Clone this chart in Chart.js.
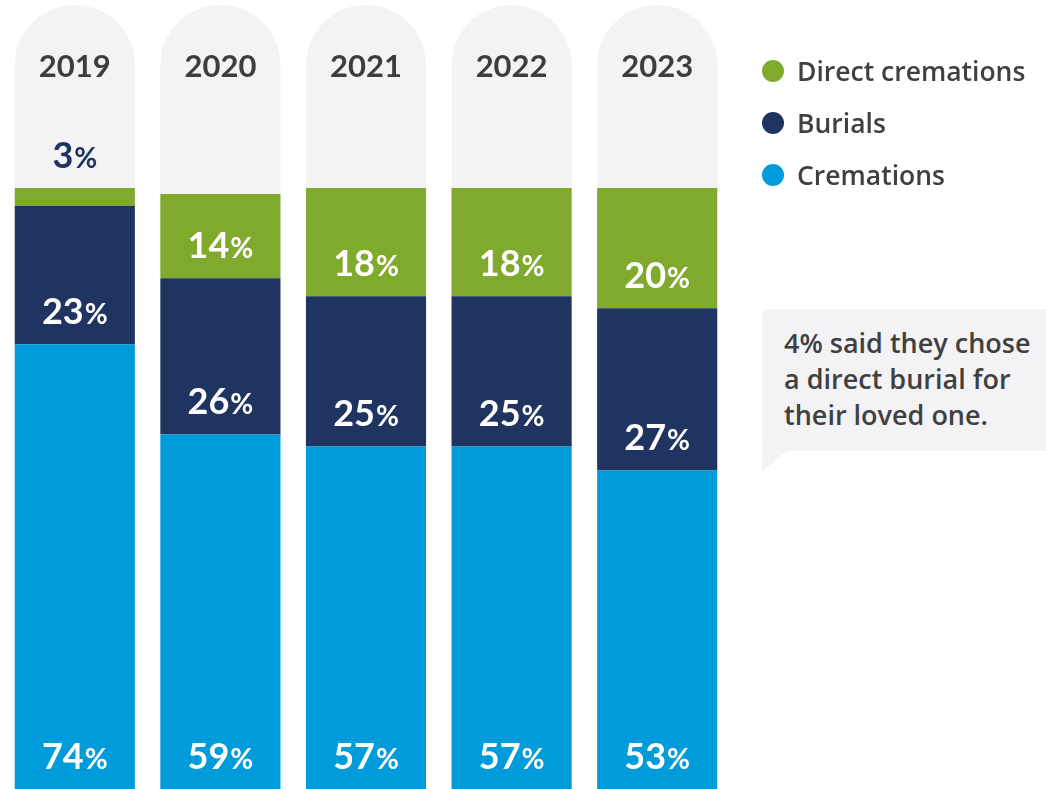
<!DOCTYPE html>
<html>
<head>
<meta charset="utf-8">
<script src="https://cdn.jsdelivr.net/npm/chart.js@4"></script>
<style>
  body { margin: 0; background: #fff; font-family: "Open Sans", Lato, sans-serif; }
  #wrap { position: relative; width: 1046px; height: 789px; overflow: hidden; }
  #chartBox { position: absolute; left: 0; top: 0; width: 1046px; height: 789px; }
  .legend { position: absolute; left: 762px; top: 52px; color: #404040; font-size: 26.5px; font-weight: 600; }
  .legend div { display: flex; align-items: center; height: 38px; margin-bottom: 14px; }
  .legend span.dot { width: 22px; height: 22px; border-radius: 50%; display: inline-block; margin-right: 13px; }
  .note { position: absolute; left: 762px; top: 309px; width: 300px; height: 142px; background: #f3f3f5; border-radius: 6px; }
  .note p { margin: 0; position: absolute; left: 22px; top: 16px; font-size: 27px; font-weight: 600; color: #404040; line-height: 36px; }
  .tail { position: absolute; left: 762px; top: 450px; width: 0; height: 0;
          border-top: 22px solid #f3f3f5; border-right: 26px solid transparent; }
</style>
</head>
<body>
<div id="wrap">
  <div id="chartBox"><canvas id="funeralChart"></canvas></div>
  <div class="legend" id="legend"></div>
  <div class="note"><p>4% said they chose<br>a direct burial for<br>their loved one.</p></div>
  <div class="tail"></div>
</div>
<script>
// shares of funeral types per year (%)
var years = ["2019", "2020", "2021", "2022", "2023"];
var cremations = [74, 59, 57, 57, 53];
var burials = [23, 26, 25, 25, 27];
var directCremations = [3, 14, 18, 18, 20];

var colors = {
    cremations: "#009bdb",
    burials: "#1f3460",
    direct: "#80aa2e",
    pill: "#f3f3f5",
    text: "#3d3d3d"
};

// legend, top to bottom
var legendItems = [
    ["Direct cremations", colors.direct],
    ["Burials", colors.burials],
    ["Cremations", colors.cremations]
];
var legendEl = document.getElementById("legend");
legendItems.forEach(function (item) {
    var row = document.createElement("div");
    row.innerHTML = '<span class="dot" style="background:' + item[1] + '"></span>' + item[0];
    legendEl.appendChild(row);
});

var numFont = "bold 36px Lato, 'Open Sans', sans-serif";
var pctFont = "bold 28px Lato, 'Open Sans', sans-serif";

function drawPercent(ctx, value, cx, baseline, color) {
    var num = String(value);
    ctx.font = numFont;
    var wNum = ctx.measureText(num).width;
    ctx.font = pctFont;
    var wPct = ctx.measureText("%").width;
    var start = cx - (wNum + wPct + 1) / 2;
    ctx.fillStyle = color;
    ctx.textAlign = "left";
    ctx.textBaseline = "alphabetic";
    ctx.font = numFont;
    ctx.fillText(num, start, baseline);
    ctx.font = pctFont;
    ctx.fillText("%", start + wNum + 1, baseline);
}

// gray rounded columns behind each bar, with the year on top
var pillPlugin = {
    id: "pills",
    beforeDatasetsDraw: function (chart) {
        var ctx = chart.ctx;
        var meta = chart.getDatasetMeta(0);
        var bottom = chart.chartArea.bottom;
        ctx.save();
        meta.data.forEach(function (bar, i) {
            var w = bar.width;
            var left = bar.x - w / 2;
            var r = w / 2;
            var top = 5;
            ctx.fillStyle = colors.pill;
            ctx.beginPath();
            ctx.moveTo(left, bottom);
            ctx.lineTo(left, top + r);
            ctx.arc(bar.x, top + r, r, Math.PI, 0);
            ctx.lineTo(left + w, bottom);
            ctx.closePath();
            ctx.fill();
            ctx.fillStyle = colors.text;
            ctx.font = "bold 31px Lato, 'Open Sans', sans-serif";
            ctx.textAlign = "center";
            ctx.textBaseline = "alphabetic";
            ctx.fillText(years[i], bar.x, 77);
        });
        ctx.restore();
    }
};

// value labels sit near the bottom of each segment
var labelPlugin = {
    id: "segmentLabels",
    afterDatasetsDraw: function (chart) {
        var ctx = chart.ctx;
        ctx.save();
        chart.data.datasets.forEach(function (ds, d) {
            var meta = chart.getDatasetMeta(d);
            meta.data.forEach(function (bar, i) {
                var segBottom = bar.base;
                var segTop = bar.y;
                if (segBottom - segTop < 50) {
                    drawPercent(ctx, ds.data[i], bar.x, segTop - 20, colors.burials);
                } else {
                    drawPercent(ctx, ds.data[i], bar.x, segBottom - 20, "#ffffff");
                }
            });
        });
        ctx.restore();
    }
};

var canvasElement = document.getElementById("funeralChart");
var config = {
    type: "bar",
    data: {
        labels: years,
        datasets: [{
            label: "Cremations",
            data: cremations,
            backgroundColor: colors.cremations
        }, {
            label: "Burials",
            data: burials,
            backgroundColor: colors.burials
        }, {
            label: "Direct cremations",
            data: directCremations,
            backgroundColor: colors.direct
        }]
    },
    options: {
        responsive: true,
        maintainAspectRatio: false,
        animation: false,
        layout: {
            padding: { left: 2, right: 316, top: 188, bottom: 0 }
        },
        datasets: {
            bar: {
                categoryPercentage: 1,
                barPercentage: 0.825,
                borderWidth: 0
            }
        },
        plugins: {
            legend: { display: false },
            tooltip: { enabled: false }
        },
        scales: {
            x: { stacked: true, display: false },
            y: { stacked: true, display: false, min: 0, max: 100 }
        }
    },
    plugins: [pillPlugin, labelPlugin]
};

var funeralChart = new Chart(canvasElement, config);
</script>
</body>
</html>
